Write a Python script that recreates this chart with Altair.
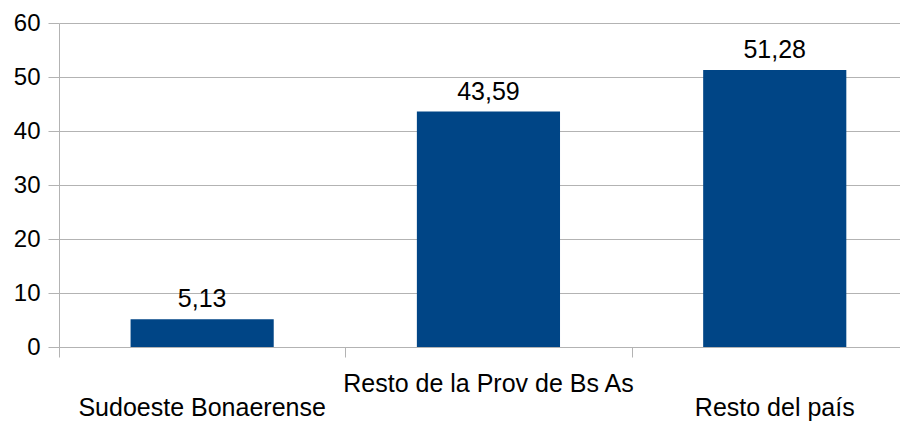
import altair as alt
import pandas as pd

categories = ["Sudoeste Bonaerense", "Resto de la Prov de Bs As", "Resto del país"]
values = [5.13, 43.59, 51.28]
y_ticks = [0, 10, 20, 30, 40, 50, 60]

df = pd.DataFrame({"cat": categories, "v": values, "i": list(range(len(categories)))})

FONT = "Liberation Sans"
GREY = "#b3b3b3"
BLUE = "#004586"
FS = 25

xscale = alt.Scale(domain=[0, 2.9375], nice=False, zero=False)
yscale = alt.Scale(domain=[0, 60], nice=False)

base = alt.Chart(df).transform_calculate(
    x0="datum.i + 0.25",
    x1="datum.i + 0.75",
    xc="datum.i + 0.5",
    lab="replace(format(datum.v, '.2f'), '.', ',')",
)

bars = base.mark_bar(color=BLUE).encode(
    x=alt.X("x0:Q", scale=xscale, axis=alt.Axis(
        values=[0, 1, 2], labels=False, title=None, grid=False,
        tickSize=10, tickColor=GREY, domainColor=GREY)),
    x2="x1:Q",
    y=alt.Y("v:Q", scale=yscale, axis=alt.Axis(
        values=y_ticks, title=None, tickSize=11, tickColor=GREY,
        domainColor=GREY, gridColor=GREY, labelFontSize=24, labelFont=FONT,
        labelColor="#000000", labelPadding=8)),
    y2=alt.datum(0),
)

vals = base.mark_text(dy=-12, baseline="alphabetic", fontSize=FS, font=FONT,
                      color="#000000").encode(
    x=alt.X("xc:Q", scale=xscale), y=alt.Y("v:Q", scale=yscale), text="lab:N")

lab_upper = base.transform_filter("datum.i % 2 == 1").mark_text(
    baseline="alphabetic", fontSize=FS, font=FONT, color="#000000").encode(
    x=alt.X("xc:Q", scale=xscale), y=alt.value(368.5), text="cat:N")

lab_lower = base.transform_filter("datum.i % 2 == 0").mark_text(
    baseline="alphabetic", fontSize=FS, font=FONT, color="#000000").encode(
    x=alt.X("xc:Q", scale=xscale), y=alt.value(393), text="cat:N")

chart = alt.layer(bars, vals, lab_upper, lab_lower).properties(
    width=841, height=324,
    autosize=alt.AutoSizeParams(type="none"),
    padding={"left": 51, "top": 15, "right": 0, "bottom": 75},
    background="white",
).configure_view(stroke=None)

chart.save("out.html", embed_options={"renderer": "svg", "actions": False})
